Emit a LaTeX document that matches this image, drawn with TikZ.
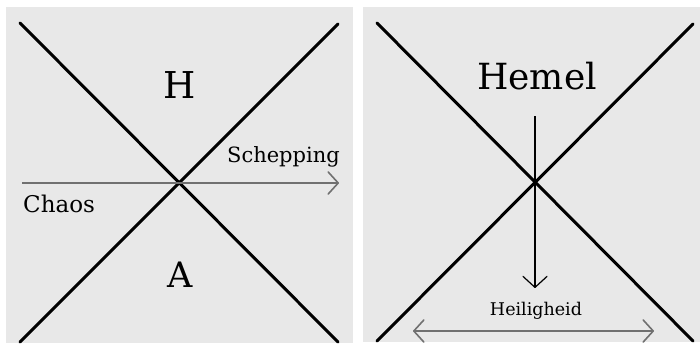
\documentclass[tikz,border=0pt]{standalone}
\usepackage{fontspec}
\setmainfont{DejaVu Serif}
\usetikzlibrary{arrows.meta}
\definecolor{panelgray}{HTML}{E8E8E8}
\definecolor{arrowgray}{HTML}{707070}

\begin{document}
\begin{tikzpicture}[x=1pt, y=-1pt,
  panel/.style={fill=panelgray, draw=none},
  cross/.style={line width=3pt, black, line cap=round},
  arr/.style={-{Straight Barb[length=10pt,width=22pt,round]}, line width=1.6pt, arrowgray},
  darr/.style={{Straight Barb[length=10pt,width=22pt,round]}-{Straight Barb[length=10pt,width=22pt,round]},
               line width=1.6pt, arrowgray},
  vdown/.style={-{Straight Barb[length=11pt,width=24pt,round]}, line width=1.2pt, black},
  lbl/.style={inner sep=0pt, text=black},
]
  \useasboundingbox (0,0) rectangle (700,351);

  % left panel
  \fill[panel] (6,7) rectangle (353,343);
  \coordinate (ltl) at (20,23);
  \coordinate (lbr) at (338,342);
  \coordinate (lbl) at (20,342);
  \coordinate (ltr) at (338,24);
  \draw[cross] (ltl) -- (lbr);
  \draw[cross] (lbl) -- (ltr);

  \coordinate (chaos) at (22,183);
  \coordinate (schep) at (339,183);
  \draw[arr] (chaos) -- (schep);

  \node[lbl, anchor=base, font=\fontsize{37}{40}\selectfont] (h) at (180,98) {H};
  \node[lbl, anchor=base, font=\fontsize{35}{38}\selectfont] (a) at (180,287) {A};
  \node[lbl, anchor=base west, font=\fontsize{23}{26}\selectfont] (chaoslbl) at (23,212) {Chaos};
  \node[lbl, anchor=base east, font=\fontsize{21}{24}\selectfont] (schepping) at (340,162) {Schepping};

  % right panel
  \fill[panel] (363,7) rectangle (700,342);
  \coordinate (rtl) at (377,23);
  \coordinate (rbr) at (693,341);
  \coordinate (rbl) at (377,341);
  \coordinate (rtr) at (693,24);
  \draw[cross] (rtl) -- (rbr);
  \draw[cross] (rbl) -- (rtr);

  \node[lbl, anchor=base, font=\fontsize{36}{40}\selectfont] (hemel) at (537,89) {Hemel};
  \node[lbl, anchor=base, font=\fontsize{17.5}{20}\selectfont] (heilig) at (536,315) {Heiligheid};

  \coordinate (vtop) at (535,116);
  \coordinate (vbot) at (535,288);
  \draw[vdown] (vtop) -- (vbot);

  \coordinate (hleft) at (413,331);
  \coordinate (hright) at (654,331);
  \draw[darr] (hleft) -- (hright);
\end{tikzpicture}
\end{document}
